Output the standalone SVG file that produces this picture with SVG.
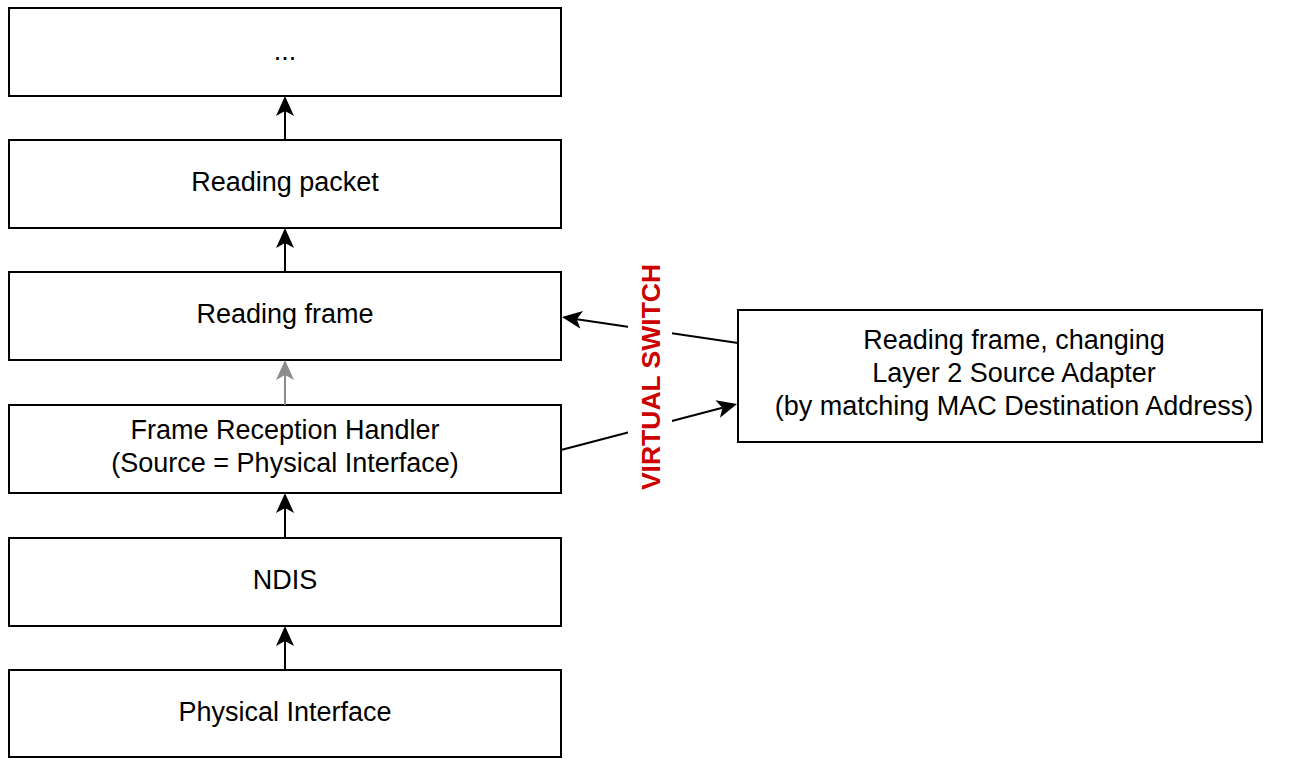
<svg xmlns="http://www.w3.org/2000/svg" width="1292" height="759" viewBox="0 0 1292 759">
  <style>
    .box { fill: #ffffff; stroke: #000000; stroke-width: 2; }
    .lbl { font-family: "Liberation Sans", Arial, Helvetica, sans-serif; font-size: 27px; fill: #000000; text-anchor: middle; }
    .edge { fill: none; stroke: #000000; stroke-width: 2; }
    .edge.dim { stroke: #8c8c8c; }
    .tag { font-family: "Liberation Sans", Arial, Helvetica, sans-serif; font-size: 26.5px; font-weight: bold; fill: #cc0000; text-anchor: middle; }
  </style>
  <defs>
    <marker id="head" viewBox="0 0 20 18" refX="5" refY="9" markerWidth="20" markerHeight="18" markerUnits="userSpaceOnUse" orient="auto">
      <path d="M0,0 L20,9 L0,18 L5,9 Z" fill="#000000"/>
    </marker>
    <marker id="head-dim" viewBox="0 0 20 18" refX="5" refY="9" markerWidth="20" markerHeight="18" markerUnits="userSpaceOnUse" orient="auto">
      <path d="M0,0 L20,9 L0,18 L5,9 Z" fill="#8c8c8c"/>
    </marker>
  </defs>
  <rect width="1292" height="759" fill="#ffffff"/>

  <!-- protocol stack, top to bottom -->
  <g id="node-upper">
    <rect class="box" x="9" y="8" width="552" height="88"/>
    <text class="lbl" x="285" y="60">...</text>
  </g>
  <g id="node-packet">
    <rect class="box" x="9" y="140" width="552" height="88"/>
    <text class="lbl" x="285" y="191">Reading packet</text>
  </g>
  <g id="node-frame">
    <rect class="box" x="9" y="272" width="552" height="88"/>
    <text class="lbl" x="285" y="323">Reading frame</text>
  </g>
  <g id="node-handler">
    <rect class="box" x="9" y="405" width="552" height="88"/>
    <text class="lbl" x="285" y="439">Frame Reception Handler</text>
    <text class="lbl" x="285" y="472">(Source = Physical Interface)</text>
  </g>
  <g id="node-ndis">
    <rect class="box" x="9" y="538" width="552" height="88"/>
    <text class="lbl" x="285" y="589">NDIS</text>
  </g>
  <g id="node-phys">
    <rect class="box" x="9" y="670" width="552" height="87"/>
    <text class="lbl" x="285" y="721">Physical Interface</text>
  </g>

  <!-- virtual switch adapter -->
  <g id="node-adapter">
    <rect class="box" x="738" y="310" width="524" height="132"/>
    <text class="lbl" x="1014" y="349">Reading frame, changing</text>
    <text class="lbl" x="1014" y="382">Layer 2 Source Adapter</text>
    <text class="lbl" x="1014" y="415">(by matching MAC Destination Address)</text>
  </g>

  <!-- connectors -->
  <g id="connectors">
    <line class="edge" x1="285" y1="140" x2="285" y2="111" marker-end="url(#head)"/>
    <line class="edge" x1="285" y1="272" x2="285" y2="243" marker-end="url(#head)"/>
    <line class="edge dim" x1="285" y1="405" x2="285" y2="375" marker-end="url(#head-dim)"/>
    <line class="edge" x1="285" y1="538" x2="285" y2="508" marker-end="url(#head)"/>
    <line class="edge" x1="285" y1="670" x2="285" y2="641" marker-end="url(#head)"/>
    <line class="edge" x1="738" y1="343" x2="576.8" y2="319.2" marker-end="url(#head)"/>
    <line class="edge" x1="561" y1="450" x2="722.5" y2="407.8" marker-end="url(#head)"/>
  </g>

  <!-- vertical label over the switch links -->
  <g id="label-switch">
    <rect x="628" y="262" width="44" height="230" fill="#ffffff"/>
    <text class="tag" transform="translate(660 377) rotate(-90)">VIRTUAL SWITCH</text>
  </g>
</svg>
